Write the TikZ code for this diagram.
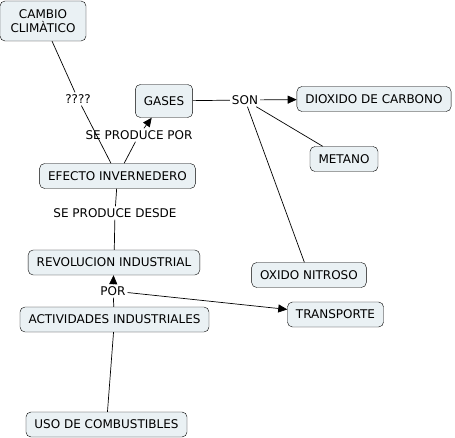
\documentclass[tikz,border=0pt]{standalone}
\usepackage{fontspec}
\setmainfont{DejaVu Sans}
\usepackage{tikz}
\usetikzlibrary{arrows.meta}
\usepackage{xcolor}
\definecolor{conceptfill}{RGB}{234,241,244}

\tikzset{
	concept/.style={draw=black, fill=conceptfill, rounded corners=5pt,
		inner xsep=8.5pt, inner ysep=2pt, minimum height=25pt, align=center},
	linkphrase/.style={inner sep=2pt},
	link/.style={draw=black, line width=0.7pt},
	tip/.style={-{Triangle[length=9pt,width=8pt]}}
}

\begin{document}
\begin{tikzpicture}[x=1pt,y=-1pt,font=\fontsize{12}{14}\selectfont]
			
			\useasboundingbox (0,0) rectangle (455,438);
			
			% concepts
			\node[concept, minimum height=40pt, minimum width=86pt] (cambio) at (43,21) {CAMBIO\\CLIMÀTICO};
			\node[concept, minimum height=33pt] (gases) at (164,101) {GASES};
			\node[concept] (efecto) at (117.5,176) {EFECTO INVERNEDERO};
			\node[concept] (revolucion) at (114,262.5) {REVOLUCION INDUSTRIAL};
			\node[concept] (actividades) at (114.5,319.5) {ACTIVIDADES INDUSTRIALES};
			\node[concept] (uso) at (106.5,424.5) {USO DE COMBUSTIBLES};
			\node[concept] (dioxido) at (374,99) {DIOXIDO DE CARBONO};
			\node[concept] (metano) at (344,159) {METANO};
			\node[concept] (oxido) at (309,275) {OXIDO NITROSO};
			\node[concept] (transporte) at (335.5,314.5) {TRANSPORTE};
			
			% linking phrases
			\node[linkphrase] (pregunta) at (78,99) {????};
			\node[linkphrase] (porgases) at (139,135) {SE PRODUCE POR};
			\node[linkphrase] (son) at (245,100) {SON};
			\node[linkphrase] (desde) at (115,213) {SE PRODUCE DESDE};
			\node[linkphrase] (por) at (113,291) {POR};
			
			% links
			\draw[link] (cambio) -- (pregunta) -- (efecto);
			\draw[link] (efecto) -- (porgases);
			\draw[link,tip] (porgases) -- (gases);
			\draw[link] (gases) -- (son);
			\draw[link,tip] (son) -- (dioxido);
			\draw[link] (son) -- (metano);
			\draw[link] (son) -- (oxido);
			\draw[link] (efecto) -- (desde) -- (revolucion);
			\draw[link] (actividades) -- (por);
			\draw[link,tip] (por) -- (revolucion);
			\draw[link,tip] (por) -- (transporte);
			\draw[link] (uso) -- (actividades);
			
		\end{tikzpicture}
\end{document}
